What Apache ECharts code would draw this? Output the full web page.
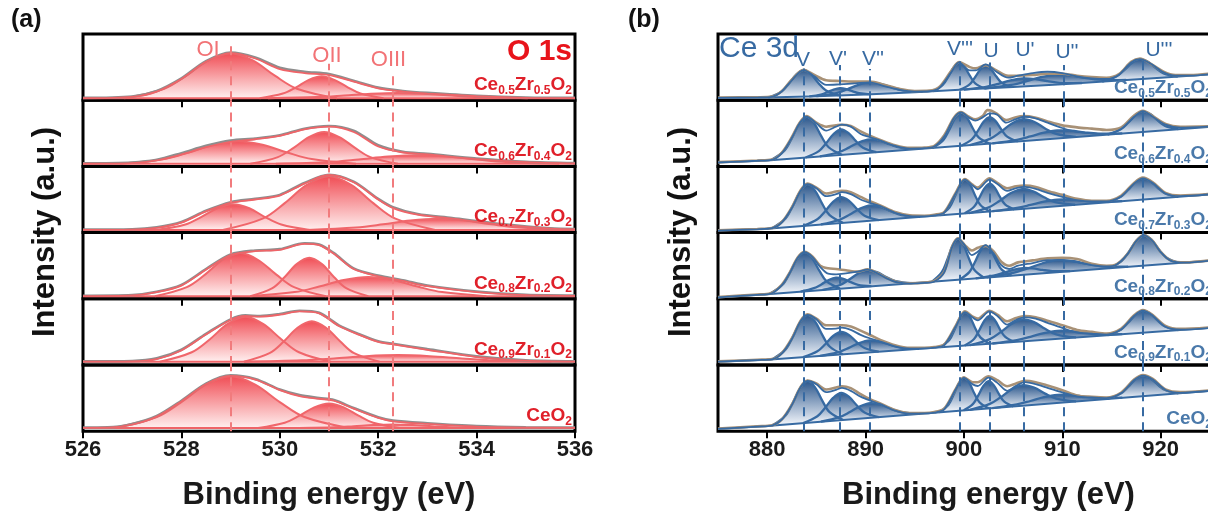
<!DOCTYPE html>
<html><head><meta charset="utf-8">
<script src="https://cdn.jsdelivr.net/npm/echarts@6/dist/echarts.min.js"></script>
<style>html,body{margin:0;padding:0;background:#fff}#c{width:1208px;height:513px}</style>
</head><body><div id="c"></div>
<script>
// ---------------- DATA ----------------
const aSamples = ['Ce0.5Zr0.5O2','Ce0.6Zr0.4O2','Ce0.7Zr0.3O2','Ce0.8Zr0.2O2','Ce0.9Zr0.1O2','CeO2'];
const bSamples = aSamples;
const oNames = ['OI','OII','OIII'];
const oLinePos = [529.0, 531.0, 532.3];
const oLineTop = [0.83, 0.55, 0.45];
const ceNames = ["V","V'","V''","V'''","U","U'","U''","U'''"];
const ceLinePos = [883.7, 887.4, 890.4, 899.6, 902.6, 906.1, 910.1, 918.2];
const ceLineTop = [0.48, 0.53, 0.47, 0.63, 0.57, 0.53, 0.53, 0.63];
const oTickInterval = 2;
const ceTicks = [880, 890, 900, 910, 920];

// ---- panel (a) O 1s ----
const a1OI = [[526.84,.03],[527.65,.173],[528.1,.37],[528.55,.601],[529.0,.71],[529.45,.601],[529.9,.37],[530.35,.173],[531.16,.03]];
const a1OII = [[529.59,.03],[530.06,.10],[530.33,.195],[530.59,.307],[530.85,.36],[531.11,.307],[531.38,.195],[531.64,.10],[532.11,.03]];
const a1OIII = [[529.76,.03],[530.75,.047],[531.3,.07],[531.85,.097],[532.4,.11],[532.95,.097],[533.5,.07],[534.05,.047],[535.04,.03]];
const a1Env = [[526,.03],[527,.05],[527.5,.13],[528,.32],[528.5,.58],[529,.71],[529.5,.63],[530,.47],[530.5,.41],[531,.38],[531.5,.28],[532,.18],[532.5,.13],[533,.1],[534,.06],[535,.035],[536,.03]];
const a1Raw = [[526,.035],[527,.055],[527.5,.14],[528,.33],[528.5,.59],[529,.72],[529.5,.645],[530,.49],[530.5,.43],[531,.395],[531.5,.295],[532,.19],[532.5,.14],[533,.11],[534,.065],[535,.04],[536,.035]];
const a1Base = [[526,.03],[536,.03]];

const a2OI = [[526.75,.04],[527.65,.111],[528.15,.21],[528.65,.326],[529.15,.38],[529.65,.326],[530.15,.21],[530.65,.111],[531.55,.04]];
const a2OII = [[529.4,.04],[529.96,.141],[530.28,.28],[530.59,.443],[530.9,.52],[531.21,.443],[531.53,.28],[531.84,.141],[532.4,.04]];
const a2OIII = [[529.92,.04],[531.0,.067],[531.6,.105],[532.2,.149],[532.8,.17],[533.4,.149],[534.0,.105],[534.6,.067],[535.68,.04]];
const a2Env = [[526,.04],[527,.05],[527.5,.09],[528,.18],[528.5,.29],[529,.37],[529.5,.41],[530,.46],[530.5,.56],[531,.6],[531.5,.52],[532,.3],[532.5,.21],[533,.18],[534,.11],[535,.065],[536,.045]];
const a2Raw = [[526,.045],[527,.06],[527.5,.1],[528,.2],[528.5,.31],[529,.39],[529.5,.42],[530,.47],[530.5,.57],[531,.61],[531.5,.54],[532,.32],[532.5,.22],[533,.19],[534,.12],[535,.07],[536,.05]];
const a2Base = [[526,.04],[536,.04]];

const a3OI = [[527.49,.04],[528.08,.122],[528.4,.235],[528.73,.368],[529.05,.43],[529.38,.368],[529.7,.235],[530.03,.122],[530.61,.04]];
const a3OII = [[528.84,.04],[529.65,.21],[530.1,.445],[530.55,.72],[531.0,.85],[531.45,.72],[531.9,.445],[532.35,.21],[533.16,.04]];
const a3OIII = [[530.56,.04],[531.55,.076],[532.1,.125],[532.65,.183],[533.2,.21],[533.75,.183],[534.3,.125],[534.85,.076],[535.84,.04]];
const a3Env = [[526,.04],[527,.045],[527.5,.07],[528,.15],[528.5,.32],[529,.45],[529.5,.5],[530,.56],[530.5,.74],[531,.87],[531.5,.76],[532,.5],[532.3,.37],[532.8,.27],[533.5,.21],[534.5,.12],[535.5,.06],[536,.05]];
const a3Raw = [[526,.045],[527,.05],[527.5,.08],[528,.16],[528.5,.33],[529,.46],[529.5,.51],[530,.57],[530.5,.75],[531,.875],[531.5,.77],[532,.51],[532.3,.385],[532.8,.28],[533.5,.22],[534.5,.13],[535.5,.065],[536,.055]];
const a3Base = [[526,.04],[536,.04]];

const a4OI = [[527.46,.04],[528.11,.177],[528.48,.365],[528.84,.586],[529.2,.69],[529.56,.586],[529.93,.365],[530.29,.177],[530.94,.04]];
const a4OII = [[529.4,.04],[529.85,.162],[530.1,.33],[530.35,.527],[530.6,.62],[530.85,.527],[531.1,.33],[531.35,.162],[531.8,.04]];
const a4OIII = [[529.4,.04],[530.3,.101],[530.8,.185],[531.3,.284],[531.8,.33],[532.3,.284],[532.8,.185],[533.3,.101],[534.2,.04]];
const a4Env = [[526,.04],[527,.05],[527.5,.1],[528,.2],[528.5,.44],[529,.66],[529.5,.72],[530,.74],[530.5,.83],[530.8,.81],[531.1,.68],[531.5,.45],[532,.34],[532.5,.27],[533,.19],[534,.1],[535,.055],[536,.045]];
const a4Raw = [[526,.045],[527,.055],[527.5,.105],[528,.21],[528.5,.45],[529,.67],[529.5,.73],[530,.75],[530.5,.84],[530.8,.82],[531.1,.69],[531.5,.46],[532,.35],[532.5,.28],[533,.2],[534,.11],[535,.06],[536,.05]];
const a4Base = [[526,.04],[536,.04]];

const a5OI = [[527.56,.05],[528.21,.193],[528.58,.39],[528.94,.621],[529.3,.73],[529.66,.621],[530.03,.39],[530.39,.193],[531.04,.05]];
const a5OII = [[529.27,.05],[529.79,.178],[530.08,.355],[530.36,.562],[530.65,.66],[530.94,.562],[531.23,.355],[531.51,.178],[532.03,.05]];
const a5OIII = [[529.28,.05],[530.45,.071],[531.1,.1],[531.75,.134],[532.4,.15],[533.05,.134],[533.7,.1],[534.35,.071],[535.52,.05]];
const a5Env = [[526,.05],[527,.055],[527.5,.09],[528,.22],[528.5,.46],[529,.68],[529.3,.74],[529.6,.73],[530,.76],[530.4,.81],[530.8,.78],[531.2,.59],[531.6,.46],[532,.35],[532.3,.31],[533,.23],[534,.12],[535,.065],[536,.05]];
const a5Raw = [[526,.055],[527,.06],[527.5,.1],[528,.23],[528.5,.47],[529,.69],[529.3,.75],[529.6,.74],[530,.77],[530.4,.82],[530.8,.79],[531.2,.6],[531.6,.47],[532,.36],[532.3,.32],[533,.24],[534,.13],[535,.07],[536,.055]];
const a5Base = [[526,.05],[536,.05]];

const a6OI = [[526.6,.05],[527.5,.214],[528.0,.44],[528.5,.705],[529.0,.83],[529.5,.705],[530.0,.44],[530.5,.214],[531.4,.05]];
const a6OII = [[529.56,.05],[530.1,.128],[530.4,.235],[530.7,.361],[531.0,.42],[531.3,.361],[531.6,.235],[531.9,.128],[532.44,.05]];
const a6OIII = [[530.38,.05],[531.1,.06],[531.5,.075],[531.9,.092],[532.3,.1],[532.7,.092],[533.1,.075],[533.5,.06],[534.22,.05]];
const a6Env = [[526,.05],[526.5,.052],[527,.1],[527.5,.22],[528,.45],[528.5,.71],[529,.835],[529.5,.78],[530,.62],[530.4,.53],[530.8,.49],[531.1,.46],[531.5,.34],[532,.2],[532.3,.15],[533,.11],[534,.07],[535,.055],[536,.05]];
const a6Raw = [[526,.055],[526.5,.058],[527,.11],[527.5,.23],[528,.46],[528.5,.72],[529,.845],[529.5,.79],[530,.63],[530.4,.545],[530.8,.5],[531.1,.47],[531.5,.35],[532,.21],[532.3,.16],[533,.12],[534,.078],[535,.06],[536,.055]];
const a6Base = [[526,.05],[536,.05]];

// ---- panel (b) Ce 3d ----
const b1Bg = [[875,.035],[880,.04],[885,.06],[890,.085],[895,.12],[900,.16],[905,.2],[910,.24],[915,.29],[920,.34],[925.5,.395]];
const b1V = [[880.1,.04],[881.45,.13],[882.2,.249],[882.95,.388],[883.7,.455],[884.45,.394],[885.2,.261],[885.95,.149],[887.3,.072]];
const b1V1 = [[884.28,.057],[885.45,.085],[886.1,.121],[886.75,.161],[887.4,.182],[888.05,.167],[888.7,.133],[889.35,.105],[890.52,.089]];
const b1V2 = [[885.0,.06],[887.03,.108],[888.15,.166],[889.28,.232],[890.4,.268],[891.53,.246],[892.65,.194],[893.78,.149],[895.8,.126]];
const b1V3 = [[896.86,.135],[897.85,.229],[898.4,.352],[898.95,.496],[899.5,.566],[900.05,.504],[900.6,.37],[901.15,.255],[902.14,.177]];
const b1U = [[899.56,.156],[900.55,.235],[901.1,.339],[901.65,.459],[902.2,.518],[902.75,.468],[903.3,.357],[903.85,.262],[904.84,.199]];
const b1U1 = [[900,.16],[902.25,.203],[903.5,.248],[904.75,.299],[906,.328],[907.25,.319],[908.5,.288],[909.75,.263],[912,.26]];
const b1U2 = [[902.1,.177],[904.8,.23],[906.3,.285],[907.8,.348],[909.3,.384],[910.8,.374],[912.3,.338],[913.8,.31],[916.5,.305]];
const b1U3 = [[914.06,.281],[915.5,.358],[916.3,.453],[917.1,.563],[917.9,.619],[918.7,.579],[919.5,.485],[920.3,.406],[921.74,.357]];
const b1Env = [[875,.035],[879,.04],[880.5,.05],[881.5,.135],[882.5,.3],[883.7,.455],[884.8,.36],[886,.23],[887.4,.24],[889,.255],[890.4,.27],[892,.21],[893.5,.155],[895,.13],[896.5,.135],[897.5,.185],[898.7,.42],[899.5,.57],[900.6,.45],[901.2,.45],[902.2,.54],[903.3,.43],[904.5,.34],[905.5,.37],[907,.41],[908.5,.43],[910,.41],[911.5,.36],[913,.33],[914.5,.32],[915.8,.39],[917,.57],[917.9,.62],[919,.55],[920.3,.42],[921.5,.37],[923,.37],[925.5,.4]];
const b1Raw = [[875,.04],[879,.045],[880.5,.055],[881.5,.14],[882.5,.31],[883.7,.46],[884.8,.38],[886,.3],[887.4,.29],[889,.28],[890.4,.28],[892,.23],[893.5,.17],[895,.14],[896.5,.145],[897.5,.2],[898.7,.44],[899.5,.575],[900.6,.5],[901.2,.48],[902.2,.53],[903.3,.45],[904.5,.37],[905.5,.37],[907,.38],[908.5,.4],[910,.4],[911.5,.37],[913,.35],[914.5,.34],[915.8,.4],[917,.58],[917.9,.63],[919,.55],[920.3,.43],[921.5,.38],[923,.38],[925.5,.41]];

const b2Bg = [[875,.06],[880,.09],[925.5,.604]];
const b2V = [[880.4,.095],[881.75,.238],[882.5,.423],[883.25,.639],[884.0,.745],[884.75,.656],[885.5,.457],[886.25,.289],[887.6,.176]];
const b2V1 = [[883.9,.134],[885.25,.23],[886.0,.351],[886.75,.489],[887.5,.56],[888.25,.506],[889.0,.385],[889.75,.281],[891.1,.215]];
const b2V2 = [[885.36,.151],[887.25,.214],[888.3,.284],[889.35,.364],[890.4,.408],[891.45,.388],[892.5,.331],[893.55,.285],[895.44,.264]];
const b2V3 = [[896.82,.28],[897.9,.397],[898.5,.549],[899.1,.726],[899.7,.813],[900.3,.739],[900.9,.576],[901.5,.438],[902.58,.345]];
const b2U = [[899.72,.313],[900.8,.409],[901.4,.532],[902.0,.675],[902.6,.745],[903.2,.688],[903.8,.559],[904.4,.45],[905.48,.378]];
const b2U1 = [[900.6,.323],[902.63,.415],[903.75,.523],[904.88,.648],[906.0,.714],[907.13,.674],[908.25,.574],[909.38,.491],[911.4,.445]];
const b2U2 = [[902.9,.349],[905.38,.402],[906.75,.452],[908.13,.509],[909.5,.543],[910.88,.54],[912.25,.514],[913.63,.495],[916.1,.498]];
const b2U3 = [[914.6,.481],[915.95,.561],[916.7,.66],[917.45,.773],[918.2,.832],[918.95,.79],[919.7,.694],[920.45,.612],[921.8,.562]];
const b2Env = [[875,.06],[879,.085],[880.5,.1],[881.5,.2],[882.5,.43],[883.3,.65],[884,.75],[885,.65],[886,.54],[887,.6],[887.6,.63],[888.5,.6],[889.5,.49],[890.5,.44],[891.5,.39],[893,.31],[894.5,.27],[896,.275],[897,.3],[898,.45],[899,.73],[899.7,.815],[900.5,.74],[901.15,.69],[901.9,.74],[902.6,.8],[903.4,.78],[904.3,.66],[905.2,.71],[906.1,.75],[907.2,.73],[908.5,.66],[910,.58],[911.5,.52],[913,.5],[914.5,.49],[916,.57],[917.3,.75],[918.2,.835],[919.2,.75],[920.5,.63],[922,.585],[925.5,.605]];
const b2Raw = [[875,.065],[879,.09],[880.5,.105],[881.5,.21],[882.5,.44],[883.3,.66],[884,.76],[885,.66],[886,.6],[887,.62],[887.6,.63],[888.5,.61],[889.5,.53],[890.5,.46],[891.5,.4],[893,.32],[894.5,.28],[896,.285],[897,.31],[898,.47],[899,.74],[899.7,.82],[900.5,.75],[901.15,.71],[901.9,.76],[902.4,.85],[902.8,.84],[903.4,.79],[904.3,.7],[905.2,.74],[906.1,.76],[907.2,.74],[908.5,.68],[910,.62],[911.5,.59],[913,.57],[914.5,.55],[916,.59],[917.3,.77],[918.2,.84],[919.2,.76],[920.5,.64],[922,.6],[925.5,.61]];

const b3Bg = [[875,.03],[880,.06],[925.5,.583]];
const b3V = [[880.5,.066],[881.85,.211],[882.6,.40],[883.35,.62],[884.1,.727],[884.85,.637],[885.6,.434],[886.35,.263],[887.7,.149]];
const b3V1 = [[883.66,.102],[885.1,.201],[885.9,.323],[886.7,.465],[887.5,.536],[888.3,.483],[889.1,.36],[889.9,.256],[891.34,.19]];
const b3V2 = [[885.46,.123],[887.35,.193],[888.4,.272],[889.45,.362],[890.5,.411],[891.55,.386],[892.6,.32],[893.65,.265],[895.54,.239]];
const b3V3 = [[897.58,.262],[898.53,.38],[899.05,.534],[899.58,.713],[900.1,.801],[900.63,.725],[901.15,.558],[901.68,.416],[902.62,.32]];
const b3U = [[900.08,.291],[901.03,.39],[901.55,.518],[902.08,.667],[902.6,.74],[903.13,.679],[903.65,.542],[904.18,.426],[905.12,.349]];
const b3U1 = [[900.5,.296],[902.53,.382],[903.65,.482],[904.78,.597],[905.9,.658],[907.03,.623],[908.15,.534],[909.28,.46],[911.3,.421]];
const b3U2 = [[902.9,.323],[905.38,.373],[906.75,.418],[908.13,.468],[909.5,.499],[910.88,.499],[912.25,.481],[913.63,.468],[916.1,.475]];
const b3U3 = [[914.6,.458],[915.95,.541],[916.7,.643],[917.45,.76],[918.2,.819],[918.95,.777],[919.7,.677],[920.45,.592],[921.8,.541]];
const b3Env = [[875,.03],[879,.05],[880.5,.066],[881.5,.155],[882.5,.37],[883.4,.63],[884.1,.73],[885,.67],[886,.55],[887,.58],[887.6,.61],[888.5,.58],[889.5,.5],[890.5,.445],[891.5,.4],[893,.3],[894.5,.25],[896,.245],[897,.26],[898,.3],[899.2,.6],[900.1,.8],[900.9,.71],[901.4,.655],[902.6,.8],[903.4,.735],[904.4,.63],[905.3,.67],[906.2,.69],[907.3,.66],[908.5,.6],[910,.54],[911.5,.49],[913,.47],[914.5,.47],[916,.55],[917.3,.74],[918.2,.82],[919.2,.75],[920.5,.59],[922,.55],[925.5,.585]];
const b3Raw = [[875,.035],[879,.055],[880.5,.07],[881.5,.16],[882.5,.38],[883.4,.64],[884.1,.74],[885,.68],[886,.59],[887,.62],[887.6,.63],[888.5,.61],[889.5,.54],[890.5,.47],[891.5,.41],[893,.31],[894.5,.26],[896,.255],[897,.27],[898,.31],[899.2,.61],[900.1,.81],[900.9,.72],[901.4,.68],[902.6,.82],[903.4,.75],[904.4,.67],[905.3,.7],[906.2,.71],[907.3,.69],[908.5,.63],[910,.57],[911.5,.51],[913,.48],[914.5,.48],[916,.56],[917.3,.75],[918.2,.83],[919.2,.76],[920.5,.6],[922,.56],[925.5,.59]];

const b4Bg = [[875,.02],[880,.07],[925.5,.584]];
const b4V = [[880.2,.072],[881.55,.212],[882.3,.391],[883.05,.6],[883.8,.703],[884.55,.617],[885.3,.425],[886.05,.262],[887.4,.154]];
const b4V1 = [[883.4,.108],[884.75,.16],[885.5,.217],[886.25,.284],[887.0,.319],[887.75,.301],[888.5,.251],[889.25,.211],[890.6,.19]];
const b4V2 = [[885.64,.134],[887.35,.204],[888.3,.287],[889.25,.381],[890.2,.43],[891.15,.402],[892.1,.33],[893.05,.268],[894.76,.237]];
const b4V3 = [[896.76,.259],[897.75,.401],[898.3,.587],[898.85,.804],[899.4,.909],[899.95,.816],[900.5,.612],[901.05,.438],[902.04,.319]];
const b4U = [[899.56,.291],[900.55,.403],[901.1,.548],[901.65,.717],[902.2,.801],[902.75,.73],[903.3,.573],[903.85,.44],[904.84,.351]];
const b4U1 = [[901.2,.31],[903,.351],[904,.391],[905,.437],[906,.464],[907,.459],[908,.436],[909,.419],[910.8,.418]];
const b4U2 = [[902.3,.322],[905,.391],[906.5,.46],[908,.537],[909.5,.583],[911,.571],[912.5,.527],[914,.492],[916.7,.485]];
const b4U3 = [[914.7,.462],[916.05,.574],[916.8,.716],[917.55,.88],[918.3,.963],[919.05,.897],[919.8,.75],[920.55,.625],[921.9,.543]];
const b4Env = [[875,.02],[879,.06],[880.3,.073],[881.5,.207],[882.3,.39],[883.1,.615],[883.8,.703],[884.6,.63],[885.4,.48],[886.2,.38],[887,.37],[888,.385],[889.2,.41],[890.2,.44],[891.2,.385],[892.2,.305],[893.2,.25],[894.5,.23],[896,.24],[897,.262],[898,.4],[898.8,.78],[899.4,.909],[900.1,.804],[900.8,.66],[901.4,.71],[902.2,.81],[903,.69],[903.8,.507],[904.6,.45],[905.5,.5],[907,.54],[908.5,.585],[910,.585],[911.5,.553],[913,.51],[914.5,.49],[915.5,.515],[916.6,.667],[917.5,.868],[918.3,.963],[919.2,.867],[920,.706],[921,.577],[922.5,.545],[925.5,.584]];
const b4Raw = [[875,.025],[879,.065],[880.3,.08],[881.5,.215],[882.3,.4],[883.1,.625],[883.8,.71],[884.6,.64],[885.4,.5],[886.2,.46],[887,.45],[888,.43],[889.2,.41],[890.2,.445],[891.2,.39],[892.2,.31],[893.2,.255],[894.5,.235],[896,.245],[897,.27],[898,.41],[898.8,.79],[899.4,.915],[900.1,.81],[900.8,.73],[901.4,.77],[902.2,.8],[903,.72],[903.8,.56],[904.6,.5],[905.5,.55],[907,.58],[908.5,.61],[910,.62],[911.5,.6],[913,.53],[914.5,.5],[915.5,.52],[916.6,.67],[917.5,.87],[918.3,.965],[919.2,.87],[920,.71],[921,.58],[922.5,.55],[925.5,.59]];

const b5Bg = [[875,.05],[880,.08],[925.5,.567]];
const b5V = [[880.5,.085],[881.85,.232],[882.6,.423],[883.35,.645],[884.1,.754],[884.85,.661],[885.6,.455],[886.35,.28],[887.7,.162]];
const b5V1 = [[883.66,.119],[885.1,.206],[885.9,.313],[886.7,.438],[887.5,.50],[888.3,.455],[889.1,.347],[889.9,.257],[891.34,.201]];
const b5V2 = [[885.36,.137],[887.25,.196],[888.3,.259],[889.35,.331],[890.4,.371],[891.45,.354],[892.5,.304],[893.55,.263],[895.44,.245]];
const b5V3 = [[897.58,.268],[898.53,.383],[899.05,.534],[899.58,.71],[900.1,.795],[900.63,.721],[901.15,.556],[901.68,.417],[902.62,.322]];
const b5U = [[900.08,.295],[901.03,.393],[901.55,.521],[902.08,.669],[902.6,.742],[903.13,.681],[903.65,.543],[904.18,.427],[905.12,.349]];
const b5U1 = [[900.6,.3],[902.63,.391],[903.75,.499],[904.88,.623],[906.0,.688],[907.13,.647],[908.25,.547],[909.38,.463],[911.4,.416]];
const b5U2 = [[902.9,.325],[905.38,.377],[906.75,.426],[908.13,.482],[909.5,.516],[910.88,.512],[912.25,.486],[913.63,.465],[916.1,.466]];
const b5U3 = [[914.6,.45],[915.95,.534],[916.7,.638],[917.45,.758],[918.2,.819],[918.95,.774],[919.7,.67],[920.45,.582],[921.8,.527]];
const b5Env = [[875,.05],[879,.075],[880.5,.085],[881.5,.175],[882.5,.39],[883.4,.66],[884.1,.755],[885,.69],[886,.545],[887,.55],[887.6,.565],[888.5,.53],[889.5,.456],[890.5,.4],[891.5,.353],[893,.282],[894.5,.248],[896,.251],[897,.262],[898,.3],[899.2,.59],[900.1,.8],[900.9,.716],[901.4,.674],[902.6,.81],[903.4,.74],[904.4,.61],[905.3,.68],[906.2,.72],[907.3,.7],[908.5,.637],[910,.56],[911.5,.49],[913,.475],[914.5,.46],[916,.54],[917.3,.74],[918.2,.82],[919.2,.745],[920.5,.577],[922,.535],[925.5,.567]];
const b5Raw = [[875,.055],[879,.08],[880.5,.09],[881.5,.18],[882.5,.4],[883.4,.67],[884.1,.765],[885,.7],[886,.6],[887,.6],[887.6,.6],[888.5,.58],[889.5,.52],[890.5,.45],[891.5,.38],[893,.3],[894.5,.26],[896,.26],[897,.272],[898,.31],[899.2,.6],[900.1,.81],[900.9,.73],[901.4,.7],[902.6,.82],[903.4,.76],[904.4,.66],[905.3,.71],[906.2,.74],[907.3,.72],[908.5,.67],[910,.6],[911.5,.53],[913,.5],[914.5,.475],[916,.55],[917.3,.75],[918.2,.83],[919.2,.755],[920.5,.59],[922,.545],[925.5,.575]];

const b6Bg = [[875,.035],[880,.08],[925.5,.617]];
const b6V = [[880.5,.086],[881.85,.234],[882.6,.426],[883.35,.649],[884.1,.758],[884.85,.666],[885.6,.461],[886.35,.287],[887.7,.171]];
const b6V1 = [[883.66,.123],[885.1,.226],[885.9,.355],[886.7,.503],[887.5,.579],[888.3,.522],[889.1,.392],[889.9,.283],[891.34,.214]];
const b6V2 = [[885.46,.144],[887.35,.213],[888.4,.289],[889.45,.377],[890.5,.424],[891.55,.401],[892.6,.339],[893.65,.287],[895.54,.263]];
const b6V3 = [[897.48,.286],[898.43,.4],[898.95,.549],[899.48,.722],[900.0,.806],[900.53,.734],[901.05,.573],[901.58,.438],[902.52,.346]];
const b6U = [[899.98,.316],[900.93,.413],[901.45,.538],[901.98,.683],[902.5,.756],[903.03,.696],[903.55,.563],[904.08,.45],[905.02,.375]];
const b6U1 = [[900.6,.323],[902.63,.412],[903.75,.515],[904.88,.633],[906.0,.697],[907.13,.66],[908.25,.568],[909.38,.492],[911.4,.451]];
const b6U2 = [[902.9,.35],[905.38,.405],[906.75,.456],[908.13,.513],[909.5,.548],[910.88,.546],[912.25,.521],[913.63,.502],[916.1,.506]];
const b6U3 = [[914.6,.488],[915.95,.569],[916.7,.668],[917.45,.782],[918.2,.841],[918.95,.799],[919.7,.703],[920.45,.622],[921.8,.573]];
const b6Env = [[875,.035],[879,.07],[880.5,.086],[881.5,.177],[882.5,.394],[883.4,.664],[884.1,.758],[885,.71],[886,.59],[887,.625],[887.6,.653],[888.5,.61],[889.5,.522],[890.5,.461],[891.5,.408],[893,.31],[894.5,.266],[896,.269],[897,.281],[898,.33],[899.2,.636],[900,.806],[900.9,.707],[901.4,.683],[902.5,.81],[903.4,.73],[904.4,.61],[905.3,.685],[906.2,.74],[907.3,.71],[908.5,.656],[910,.586],[911.5,.524],[913,.51],[914.5,.5],[916,.576],[917.3,.77],[918.2,.841],[919.2,.78],[920.5,.623],[922,.58],[925.5,.617]];
const b6Raw = [[875,.04],[879,.075],[880.5,.09],[881.5,.18],[882.5,.4],[883.4,.67],[884.1,.765],[885,.72],[886,.63],[887,.66],[887.6,.68],[888.5,.65],[889.5,.56],[890.5,.48],[891.5,.42],[893,.32],[894.5,.275],[896,.275],[897,.29],[898,.34],[899.2,.645],[900,.815],[900.9,.74],[901.4,.74],[902.5,.83],[903.4,.77],[904.4,.68],[905.3,.72],[906.2,.76],[907.3,.74],[908.5,.69],[910,.62],[911.5,.54],[913,.52],[914.5,.51],[916,.585],[917.3,.78],[918.2,.85],[919.2,.79],[920.5,.63],[922,.59],[925.5,.625]];

// ---------------- BUILD ----------------
const aPeaks = [[a1OI,a1OII,a1OIII],[a2OI,a2OII,a2OIII],[a3OI,a3OII,a3OIII],[a4OI,a4OII,a4OIII],[a5OI,a5OII,a5OIII],[a6OI,a6OII,a6OIII]];
const aEnv = [a1Env,a2Env,a3Env,a4Env,a5Env,a6Env];
const aRaw = [a1Raw,a2Raw,a3Raw,a4Raw,a5Raw,a6Raw];
const aBase = [a1Base,a2Base,a3Base,a4Base,a5Base,a6Base];
const bPeaks = [
  [b1V,b1V1,b1V2,b1V3,b1U,b1U1,b1U2,b1U3],
  [b2V,b2V1,b2V2,b2V3,b2U,b2U1,b2U2,b2U3],
  [b3V,b3V1,b3V2,b3V3,b3U,b3U1,b3U2,b3U3],
  [b4V,b4V1,b4V2,b4V3,b4U,b4U1,b4U2,b4U3],
  [b5V,b5V1,b5V2,b5V3,b5U,b5U1,b5U2,b5U3],
  [b6V,b6V1,b6V2,b6V3,b6U,b6U1,b6U2,b6U3]];
const bEnv = [b1Env,b2Env,b3Env,b4Env,b5Env,b6Env];
const bRaw = [b1Raw,b2Raw,b3Raw,b4Raw,b5Raw,b6Raw];
const bBase = [b1Bg,b2Bg,b3Bg,b4Bg,b5Bg,b6Bg];

const FONT = '"Liberation Sans", Arial, Helvetica, sans-serif';
const TOP = 34, H = 66.2;
const PANELS = [
  {left: 83, width: 492, min: 526, max: 536, peaks: aPeaks, env: aEnv, raw: aRaw, base: aBase,
   linePos: oLinePos, lineTop: oLineTop, strokeW: 2,
   fillTop: 'rgba(240,72,80,0.97)', fillBot: 'rgba(255,238,238,0.95)', stroke: '#f0666b',
   envColor: '#ef6468', rawColor: '#8e8e8e', dash: '#f17b7d'},
  {left: 718, width: 541, min: 875, max: 930, peaks: bPeaks, env: bEnv, raw: bRaw, base: bBase,
   linePos: ceLinePos, lineTop: ceLineTop, strokeW: 2.3,
   fillTop: 'rgba(40,84,138,0.98)', fillBot: 'rgba(244,247,252,0.95)', stroke: '#376aa2',
   envColor: '#376aa2', rawColor: '#a89176', dash: '#376aa2'}
];

const grids = [], xAxes = [], yAxes = [], series = [];
PANELS.forEach((P, p) => {
  for (let i = 0; i < 6; i++) {
    const idx = p * 6 + i;
    const bottom = i === 5;
    grids.push({show: true, left: P.left, width: P.width, top: TOP + i * H, height: H,
      borderColor: '#000', borderWidth: 3, backgroundColor: 'transparent',
      containLabel: false, outerBoundsMode: 'none'});
    const xa = {gridIndex: idx, type: 'value', min: P.min, max: P.max,
      splitLine: {show: false}, axisLine: {show: false},
      axisTick: {show: true, inside: false, length: 7, lineStyle: {color: '#000', width: 2}},
      axisLabel: {show: bottom, fontSize: 22, fontWeight: 'bold', color: '#1a1a1a', fontFamily: FONT, margin: 8}};
    if (p === 0) xa.interval = oTickInterval;
    else { xa.axisTick.customValues = ceTicks; xa.axisLabel.customValues = ceTicks; }
    if (bottom) Object.assign(xa, {name: 'Binding energy (eV)', nameLocation: 'middle', nameGap: 49,
      nameTextStyle: {fontSize: 31, fontWeight: 'bold', color: '#1a1a1a', fontFamily: FONT}});
    xAxes.push(xa);
    yAxes.push({gridIndex: idx, type: 'value', min: 0, max: 1, show: false});

    const peaks = P.peaks[i];
    series.push({
      type: 'custom', xAxisIndex: idx, yAxisIndex: idx, z: 2, silent: true, clip: true,
      data: [].concat(...peaks), encode: {x: 0, y: 1},
      renderItem: function (params, api) {
        if (params.dataIndex !== 0) return null;
        const fills = [], lines = [];
        peaks.forEach(pk => {
          const pts = pk.map(pt => api.coord(pt));
          const poly = [pts[0]].concat(pts, [pts[pts.length - 1]]);
          fills.push({type: 'polygon', shape: {points: poly, smooth: 0.35},
            style: {fill: new echarts.graphic.LinearGradient(0, 0, 0, 1,
              [{offset: 0, color: P.fillTop}, {offset: 1, color: P.fillBot}]), stroke: null}});
          lines.push({type: 'polyline', shape: {points: pts, smooth: 0.35},
            style: {stroke: P.stroke, lineWidth: P.strokeW, fill: null}});
        });
        return {type: 'group', children: fills.concat(lines)};
      }
    });
    series.push({type: 'line', xAxisIndex: idx, yAxisIndex: idx, data: P.base[i], symbol: 'none',
      silent: true, z: 3, lineStyle: {color: P.envColor, width: 2},
      markLine: {silent: true, symbol: ['none', 'none'], label: {show: false}, animation: false,
        lineStyle: {color: P.dash, width: 2, type: [9, 6]}, emphasis: {disabled: true},
        data: P.linePos.map((x, j) => [{coord: [x, 0]}, {coord: [x, i === 0 ? P.lineTop[j] : 1]}])}});
    series.push({type: 'line', xAxisIndex: idx, yAxisIndex: idx, data: P.raw[i], symbol: 'none',
      silent: true, z: 3, smooth: 0.3, lineStyle: {color: P.rawColor, width: 2.6}});
    series.push({type: 'line', xAxisIndex: idx, yAxisIndex: idx, data: P.env[i], symbol: 'none',
      silent: true, z: 4, smooth: 0.3, lineStyle: {color: P.envColor, width: 1.8}});
  }
});

function toRich(name) {
  return name.replace(/([A-Za-z]+)|([\d.]+)/g, (m, a, d) => a ? '{n|' + a + '}' : '{s|' + d + '}');
}
function txt(x, y, text, font, fill, align, rot) {
  return {type: 'text', x: x, y: y, rotation: rot || 0, silent: true, z: 100,
    style: {text: text, font: font, fill: fill, align: align || 'center', textAlign: align || 'center',
      verticalAlign: 'middle', textVerticalAlign: 'middle'}};
}
function sampleLabel(x, y, name, color) {
  return {type: 'text', x: x, y: y, silent: true, z: 100,
    style: {text: toRich(name), align: 'right', textAlign: 'right', verticalAlign: 'middle', textVerticalAlign: 'middle',
      rich: {
        n: {fontSize: 19, fontWeight: 'bold', fontFamily: FONT, fill: color, color: color, lineHeight: 20, verticalAlign: 'top'},
        s: {fontSize: 12, fontWeight: 'bold', fontFamily: FONT, fill: color, color: color, lineHeight: 12, verticalAlign: 'top', padding: [9, 0, 0, 0]}
      }}};
}

const graphics = [
  txt(11, 20, '(a)', 'bold 25px ' + FONT, '#111', 'left'),
  txt(628, 20, '(b)', 'bold 25px ' + FONT, '#111', 'left'),
  txt(45, 232, 'Intensity (a.u.)', 'bold 31px ' + FONT, '#111', 'center', Math.PI / 2),
  txt(681, 232, 'Intensity (a.u.)', 'bold 31px ' + FONT, '#111', 'center', Math.PI / 2),
  txt(572, 52, 'O 1s', 'bold 30px ' + FONT, '#e8141b', 'right'),
  txt(719, 49, 'Ce 3d', '30px ' + FONT, '#376aa2', 'left')
];
const oLabelXY = [[208, 50], [327, 56], [388.5, 60]];
oNames.forEach((n, j) => graphics.push(txt(oLabelXY[j][0], oLabelXY[j][1], n, '22px ' + FONT, '#f27376')));
const ceLabelXY = [[803, 60], [838, 59.5], [873, 59.5], [960, 49.5], [991, 51.5], [1025, 50.5], [1067, 52.5], [1159, 50.5]];
ceNames.forEach((n, j) => graphics.push(txt(ceLabelXY[j][0], ceLabelXY[j][1], n, '21px ' + FONT, '#376aa2')));
for (let i = 0; i < 6; i++) {
  const bot = TOP + (i + 1) * H;
  graphics.push(sampleLabel(572, bot - 15, aSamples[i], '#e0202a'));
  graphics.push(sampleLabel(1212, bot - 12, bSamples[i], '#4a79aa'));
}

const chart = echarts.init(document.getElementById('c'), null, {renderer: 'canvas'});
chart.setOption({
  animation: false,
  backgroundColor: '#fff',
  grid: grids, xAxis: xAxes, yAxis: yAxes, series: series, graphic: graphics
});
</script></body></html>
